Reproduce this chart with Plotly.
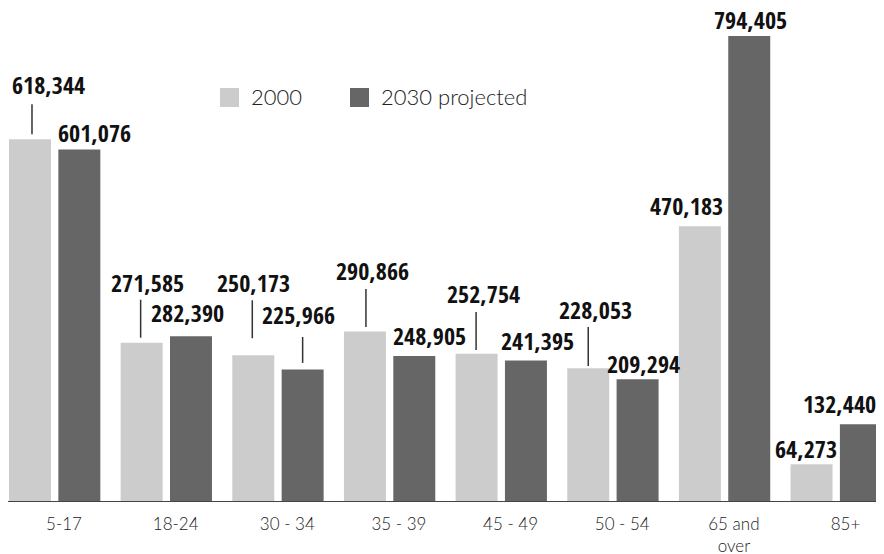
import plotly.graph_objects as go

categories = ["5-17", "18-24", "30 - 34", "35 - 39", "45 - 49", "50 - 54", "65 and<br>over", "85+"]
series_names = ["2000", "2030 projected"]
values_2000 = [618344, 271585, 250173, 290866, 252754, 228053, 470183, 64273]
values_2030 = [601076, 282390, 225966, 248905, 241395, 209294, 794405, 132440]

LIGHT = "#cccccc"
DARK = "#666666"
BAR_W = 0.376
OFF_LIGHT = -0.412
OFF_DARK = 0.030

xs = list(range(len(categories)))

fig = go.Figure()
fig.add_trace(go.Bar(x=xs, y=values_2000, name=series_names[0], width=BAR_W, offset=OFF_LIGHT,
                     marker=dict(color=LIGHT, line=dict(width=0)), showlegend=False, hoverinfo="skip"))
fig.add_trace(go.Bar(x=xs, y=values_2030, name=series_names[1], width=BAR_W, offset=OFF_DARK,
                     marker=dict(color=DARK, line=dict(width=0)), showlegend=False, hoverinfo="skip"))

# label placement (pixel offsets relative to bar top centre)
label_off_2000 = [(19, 54), (6, 59), (0, 72), (7.5, 60), (7, 59), (7, 58), (-13.5, 20), (-5.5, 14.5)]
label_off_2030 = [(15, 16), (-3, 22.5), (-4, 53.5), (15, 19.5), (11.5, 19), (6, 15), (1, 16), (-21, 19.5)]
# leader lines: (series, index, dx, gap, top)
leaders = [(0, 0, 2, 5, 35), (0, 1, -1, 5, 43), (0, 2, -1, 17, 55), (1, 2, 0, 6.5, 32.5),
           (0, 3, 1, 4.5, 42.5), (0, 4, -0.5, 3.7, 41.7), (0, 5, 0, 2.2, 41.2)]

LABEL_FONT = dict(family="'Open Sans Condensed', 'Roboto Condensed', 'DejaVu Sans Condensed', sans-serif",
                  size=24, color="#111111", weight="bold")

centers = [OFF_LIGHT + BAR_W / 2, OFF_DARK + BAR_W / 2]
all_vals = [values_2000, values_2030]
all_offs = [label_off_2000, label_off_2030]

annotations = []
for s in range(2):
    for i, v in enumerate(all_vals[s]):
        dx, dy = all_offs[s][i]
        annotations.append(dict(x=i + centers[s], y=v, xref="x", yref="y", text=f"{v:,}",
                                showarrow=False, xanchor="center", yanchor="middle",
                                xshift=dx, yshift=dy + 1, font=LABEL_FONT))

shapes = []
for s, i, dx, g, t in leaders:
    shapes.append(dict(type="line", xref="x", yref="y", xsizemode="pixel", ysizemode="pixel",
                       xanchor=i + centers[s], yanchor=all_vals[s][i], x0=dx, x1=dx, y0=g, y1=t,
                       line=dict(color="#333333", width=1.5)))

# page has an 8px body margin: figure occupies page x 8..884, y 8..554
W, H = 876, 494
def px(xp):
    return (xp - 8) / W
def py(yp):
    return (502 - yp) / H

LEG_FONT = dict(family="Lato, Roboto, sans-serif", size=22, color="#222222", weight=300)
for (x0, color, name) in [(220, LIGHT, series_names[0]), (350, DARK, series_names[1])]:
    shapes.append(dict(type="rect", xref="paper", yref="paper", x0=px(x0), x1=px(x0 + 19),
                       y0=py(107), y1=py(88), fillcolor=color, line=dict(width=0)))
    annotations.append(dict(x=px(x0 + 29), y=py(97), xref="paper", yref="paper", text=name,
                            showarrow=False, xanchor="left", yanchor="middle", font=LEG_FONT))

K = 466 / 794405
fig.update_layout(
    width=876, height=546,
    margin=dict(l=0, r=0, t=0, b=52, autoexpand=False),
    paper_bgcolor="white", plot_bgcolor="white",
    barmode="overlay",
    annotations=annotations,
    shapes=shapes,
    xaxis=dict(range=[-0.421, 7.425], tickmode="array", tickvals=xs, ticktext=categories,
               showgrid=False, zeroline=False, showline=False, ticks="", automargin=False,
               ticklabelshift=9, ticklabelstandoff=10,
               tickfont=dict(family="Lato, Roboto, sans-serif", size=17, color="#222222", weight=300)),
    yaxis=dict(range=[0, 494 / K], visible=False, showgrid=False, zeroline=False, automargin=False),
)
fig.add_shape(type="line", xref="paper", yref="y", x0=0, x1=1, y0=0, y1=0,
              line=dict(color="#444444", width=2))

fig.write_html("out.html")
